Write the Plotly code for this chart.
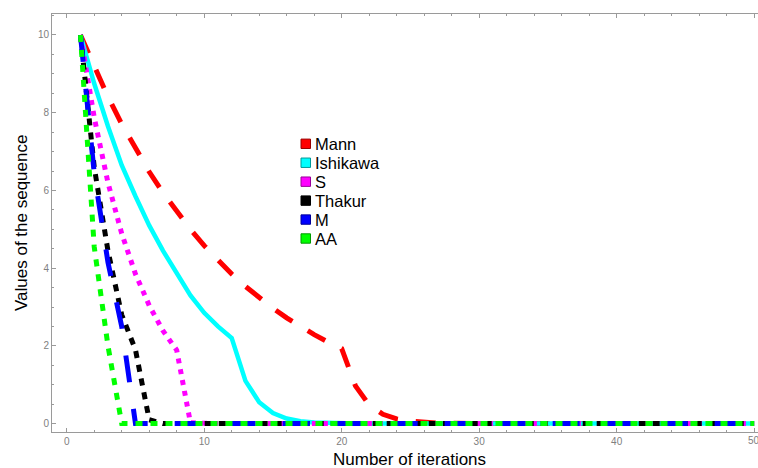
import plotly.graph_objects as go

# ---- data ----
iterations = list(range(1, 51))

mann = [10, 9.17, 8.41, 7.71, 7.07, 6.48, 5.94, 5.45, 5.0, 4.58,
        4.2, 3.85, 3.53, 3.24, 2.97, 2.72, 2.5, 2.29, 2.1, 1.93,
        0.97, 0.48, 0.24, 0.12, 0.06, 0.03, 0.015, 0.008, 0, 0,
        0, 0, 0, 0, 0, 0, 0, 0, 0, 0,
        0, 0, 0, 0, 0, 0, 0, 0, 0, 0]
ishikawa = [10, 8.75, 7.65, 6.65, 5.85, 5.1, 4.45, 3.85, 3.3, 2.85,
            2.5, 2.2, 1.1, 0.55, 0.27, 0.13, 0.06, 0.03, 0.015, 0.007,
            0, 0, 0, 0, 0, 0, 0, 0, 0, 0,
            0, 0, 0, 0, 0, 0, 0, 0, 0, 0,
            0, 0, 0, 0, 0, 0, 0, 0, 0, 0]
s_iter = [10, 7.88, 6.2, 4.89, 3.85, 3.04, 2.39, 1.89, 0.02, 0,
          0, 0, 0, 0, 0, 0, 0, 0, 0, 0,
          0, 0, 0, 0, 0, 0, 0, 0, 0, 0,
          0, 0, 0, 0, 0, 0, 0, 0, 0, 0,
          0, 0, 0, 0, 0, 0, 0, 0, 0, 0]
thakur = [10, 6.6, 4.45, 2.8, 1.9, 0.1, 0, 0, 0, 0,
          0, 0, 0, 0, 0, 0, 0, 0, 0, 0,
          0, 0, 0, 0, 0, 0, 0, 0, 0, 0,
          0, 0, 0, 0, 0, 0, 0, 0, 0, 0,
          0, 0, 0, 0, 0, 0, 0, 0, 0, 0]
m_iter = [10, 6.45, 4.15, 2.5, 0, 0, 0, 0, 0, 0,
          0, 0, 0, 0, 0, 0, 0, 0, 0, 0,
          0, 0, 0, 0, 0, 0, 0, 0, 0, 0,
          0, 0, 0, 0, 0, 0, 0, 0, 0, 0,
          0, 0, 0, 0, 0, 0, 0, 0, 0, 0]
aa = [10, 4.55, 2.0, 0, 0, 0, 0, 0, 0, 0,
      0, 0, 0, 0, 0, 0, 0, 0, 0, 0,
      0, 0, 0, 0, 0, 0, 0, 0, 0, 0,
      0, 0, 0, 0, 0, 0, 0, 0, 0, 0,
      0, 0, 0, 0, 0, 0, 0, 0, 0, 0]

series_names = ["Mann", "Ishikawa", "S", "Thakur", "M", "AA"]
series_values = [mann, ishikawa, s_iter, thakur, m_iter, aa]

x_ticks = [0, 10, 20, 30, 40, 50]
y_ticks = [0, 2, 4, 6, 8, 10]
x_title = "Number of iterations"
y_title = "Values of the sequence"

# ---- styles ----
colors = ["#FF0000", "#00FFFF", "#FF00FF", "#000000", "#0000FF", "#00FF00"]
borders = ["#990000", "#009999", "#990099", "#000000", "#000099", "#009900"]
dashes = ["20px,18px", "solid", "5px,6px", "7px,7px", "27px,27px", "7px,8px"]
widths = [5, 4.5, 5, 5, 5, 5]

W, H = 758, 468
ML, MR, MT, MB = 52, 0, 14, 36
PW, PH = W - ML - MR, H - MT - MB
FONT = "Liberation Sans, Arial, sans-serif"
TICK_COLOR = "#808080"


def px2paper_x(px):
    return (px - ML) / PW


def px2paper_y(py):
    return (H - MB - py) / PH


fig = go.Figure()
for name, vals, c, d, w in zip(series_names, series_values, colors, dashes, widths):
    fig.add_trace(go.Scatter(x=iterations, y=vals, mode="lines", name=name,
                             line=dict(color=c, width=w, dash=d),
                             showlegend=False, hoverinfo="skip"))

# manual legend (squares + text)
shapes = []
annotations = []
row0 = 143.8
row_gap = 18.94
for i, (name, c, b) in enumerate(zip(series_names, colors, borders)):
    cy = row0 + i * row_gap
    shapes.append(dict(type="rect", xref="paper", yref="paper",
                       x0=px2paper_x(301), x1=px2paper_x(310.5),
                       y0=px2paper_y(cy + 4.7), y1=px2paper_y(cy - 4.7),
                       fillcolor=c, line=dict(color=b, width=1)))
    annotations.append(dict(text=name, xref="paper", yref="paper",
                            x=px2paper_x(313), y=px2paper_y(cy + 0.5),
                            xanchor="left", yanchor="middle", showarrow=False,
                            font=dict(size=16.5, color="#000000", family=FONT)))

# last x tick label (partly cut by the page edge, as in the reference)
annotations.append(dict(text=str(x_ticks[-1]), xref="x", yref="paper",
                        x=x_ticks[-1], y=px2paper_y(440.5),
                        xanchor="center", yanchor="middle", showarrow=False,
                        font=dict(size=10, color=TICK_COLOR, family=FONT)))

# axis titles
annotations.append(dict(text=x_title, xref="paper", yref="paper",
                        x=px2paper_x(410), y=px2paper_y(459),
                        xanchor="center", yanchor="middle", showarrow=False,
                        font=dict(size=17, color="#000000", family=FONT)))
annotations.append(dict(text=y_title, xref="paper", yref="paper",
                        x=px2paper_x(21), y=px2paper_y(223),
                        xanchor="center", yanchor="middle", showarrow=False,
                        textangle=-90,
                        font=dict(size=17, color="#000000", family=FONT)))

axis_common = dict(showline=True, linecolor="#9a9a9a", linewidth=1,
                   ticks="inside", tickcolor="#9a9a9a", ticklen=4, tickwidth=1,
                   showgrid=False, zeroline=False, automargin=False,
                   tickfont=dict(size=10, color=TICK_COLOR))

fig.update_layout(
    width=W, height=H,
    margin=dict(l=ML, r=MR, t=MT, b=MB, autoexpand=False),
    paper_bgcolor="white", plot_bgcolor="white",
    font=dict(family=FONT),
    showlegend=False,
    shapes=shapes, annotations=annotations,
    xaxis=dict(range=[-1.07, 50.28], tickvals=x_ticks, mirror="ticks",
               minor=dict(dtick=2, tick0=0, ticks="inside", ticklen=2,
                          tickcolor="#9a9a9a"),
               **axis_common),
    yaxis=dict(range=[-0.216, 10.54], tickvals=y_ticks, mirror=False,
               minor=dict(dtick=0.5, tick0=0, ticks="inside", ticklen=2,
                          tickcolor="#9a9a9a"),
               **axis_common),
)

fig.write_html("out.html",
               config={"displayModeBar": False},
               post_script="document.body.style.margin='0px';"
                           "document.body.style.overflow='hidden';")
